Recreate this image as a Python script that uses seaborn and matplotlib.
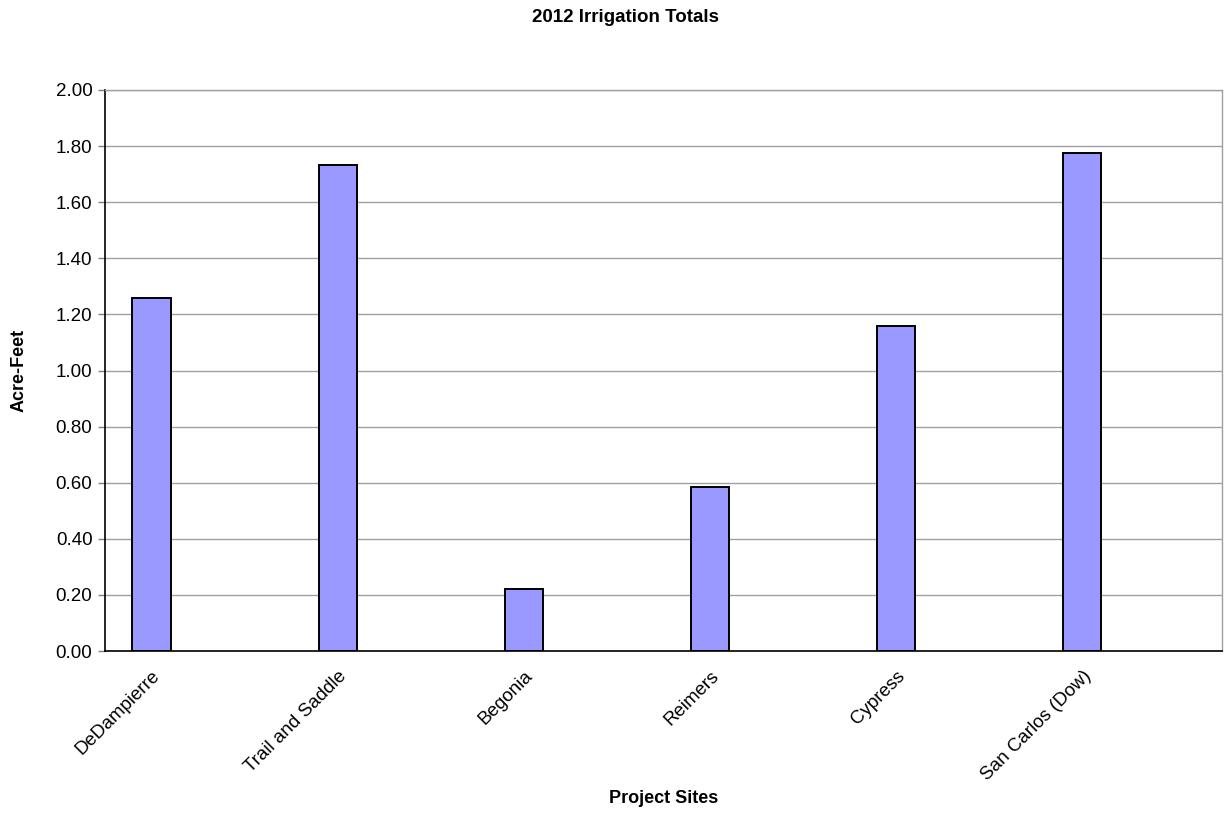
import numpy as np
import pandas as pd
import matplotlib
matplotlib.use("Agg")
import matplotlib.pyplot as plt
import seaborn as sns

sites = ["DeDampierre", "Trail and Saddle", "Begonia", "Reimers", "Cypress", "San Carlos (Dow)"]
acre_feet = [1.257, 1.731, 0.222, 0.584, 1.159, 1.776]
y_ticks = [0.0, 0.2, 0.4, 0.6, 0.8, 1.0, 1.2, 1.4, 1.6, 1.8, 2.0]

sns.set_style("white")
plt.rcParams["font.family"] = ["Liberation Sans", "DejaVu Sans"]
plt.rcParams["text.color"] = "black"
plt.rcParams["axes.labelcolor"] = "black"

df = pd.DataFrame({"site": sites, "value": acre_feet})
# Excel-style category axis: each site followed by an empty category slot
order = []
for i, s in enumerate(sites):
    order.append(s)
    order.append(f"_gap{i}")

fig = plt.figure(figsize=(12.25, 8.16), dpi=100)
ax = fig.add_axes([105/1225, 1 - 651/816, (1222 - 105)/1225, (651 - 90)/816])

sns.barplot(data=df, x="site", y="value", order=order, color="#9999FF",
            width=0.41, edgecolor="black", linewidth=1.4, saturation=1,
            ax=ax, zorder=3)

ax.set_xlim(-0.5, len(order) - 0.5)
ax.set_ylim(0, 2.0)
ax.set_yticks(y_ticks)
ax.set_yticklabels([f"{v:.2f}" for v in y_ticks], fontsize=13.5)
ax.yaxis.grid(True, color="#a0a0a0", linewidth=1.0, zorder=0)
ax.set_axisbelow(True)

major = [order.index(s) for s in sites]
ax.set_xticks(major)
ax.set_xticklabels(sites, rotation=45, ha="right", rotation_mode="anchor", fontsize=13.5)
ax.set_xticks(np.arange(-0.5, len(order)), minor=True)
ax.tick_params(axis="x", which="major", length=0, pad=12, labelcolor="black")
ax.tick_params(axis="x", which="minor", length=5, color="#808080", width=1)
ax.tick_params(axis="y", which="major", length=5, color="#808080", width=1, pad=4,
               left=True, labelcolor="black")

for side in ["left", "bottom"]:
    ax.spines[side].set_color("black")
    ax.spines[side].set_linewidth(1.2)
for side in ["top", "right"]:
    ax.spines[side].set_color("#a0a0a0")
    ax.spines[side].set_linewidth(1.0)

ax.set_xlabel("Project Sites", fontsize=13, fontweight="bold", labelpad=0)
ax.xaxis.set_label_coords(0.5, -0.247)
ax.set_ylabel("Acre-Feet", fontsize=13, fontweight="bold")
ax.yaxis.set_label_coords(-0.069, 0.5)

fig.suptitle("2012 Irrigation Totals", fontsize=13.5, fontweight="bold",
             x=625/1225, y=1 - 17/816, va="center")

fig.savefig("out.png", dpi=100)
